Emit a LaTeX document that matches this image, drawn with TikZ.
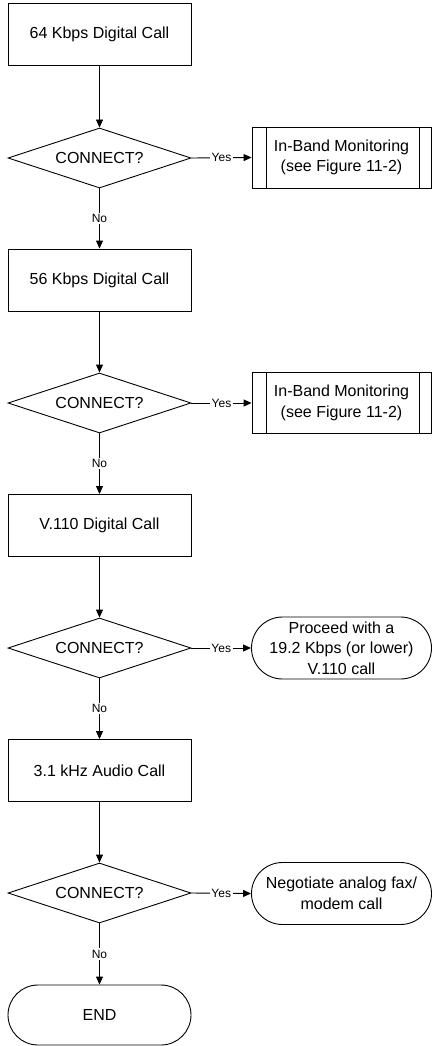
\documentclass[tikz,border=0pt]{standalone}
\usepackage{fontspec}
\setmainfont{Liberation Sans}
\usetikzlibrary{shapes.geometric,shapes.misc,arrows.meta}
\begin{document}
\begin{tikzpicture}[x=1pt,y=-1pt, line width=0.9pt,
 every node/.style={font=\fontsize{16}{20.5}\selectfont},
 procbox/.style={draw, rectangle, minimum width=183pt, minimum height=62pt, inner sep=0pt},
 decis/.style={draw, diamond, aspect=3, minimum width=183pt, minimum height=60pt, inner sep=0pt},
 subproc/.style={draw, rectangle, minimum width=179pt, minimum height=61pt, inner sep=0pt, align=center},
 termin/.style={draw, rounded rectangle, minimum width=180pt, minimum height=62pt, inner sep=0pt, align=center},
 arr/.style={-{Triangle[length=8pt,width=7pt]}},
 lbl/.style={font=\fontsize{12}{14}\selectfont, fill=white, inner sep=1.5pt}
]
\useasboundingbox (0,0) rectangle (432,1046);
\fill[white] (0,0) rectangle (432,1046);

\node[procbox] (b1) at (99.5,34.5) {64 Kbps Digital Call};
\node[decis] (d1) at (99.5,158) {CONNECT?};
\node[subproc] (s1) at (341.5,157.5) {In-Band Monitoring\\(see Figure 11-2)};

\node[procbox] (b2) at (99.5,280) {56 Kbps Digital Call};
\node[decis] (d2) at (99.5,403) {CONNECT?};
\node[subproc] (s2) at (341.5,403) {In-Band Monitoring\\(see Figure 11-2)};

\node[procbox] (b3) at (99.5,525.5) {V.110 Digital Call};
\node[decis] (d3) at (99.5,648) {CONNECT?};
\node[termin] (t3) at (341.5,648) {Proceed with a\\19.2 Kbps (or lower)\\V.110 call};

\node[procbox] (b4) at (99.5,770.5) {3.1 kHz Audio Call};
\node[decis] (d4) at (99.5,893) {CONNECT?};
\node[termin] (t4) at (341.5,893.5) {Negotiate analog fax/\\modem call};

\node[termin, minimum width=183pt, minimum height=60pt] (e) at (99.5,1015) {END};

\foreach \s in {s1,s2}{
  \draw ([xshift=15pt]\s.north west) -- ([xshift=15pt]\s.south west);
  \draw ([xshift=-12pt]\s.north east) -- ([xshift=-12pt]\s.south east);
}

\draw[arr] (b1.south) -- (d1.north);
\draw[arr] (b2.south) -- (d2.north);
\draw[arr] (b3.south) -- (d3.north);
\draw[arr] (b4.south) -- (d4.north);

\draw[arr] (d1.south) -- node[lbl]{No} (b2.north);
\draw[arr] (d2.south) -- node[lbl]{No} (b3.north);
\draw[arr] (d3.south) -- node[lbl]{No} (b4.north);
\draw[arr] (d4.south) -- node[lbl]{No} (e.north);

\draw[arr] (d1.east) -- node[lbl]{Yes} (s1.west);
\draw[arr] (d2.east) -- node[lbl]{Yes} (s2.west);
\draw[arr] (d3.east) -- node[lbl]{Yes} (t3.west);
\draw[arr] (d4.east) -- node[lbl]{Yes} (t4.west);
\end{tikzpicture}
\end{document}
